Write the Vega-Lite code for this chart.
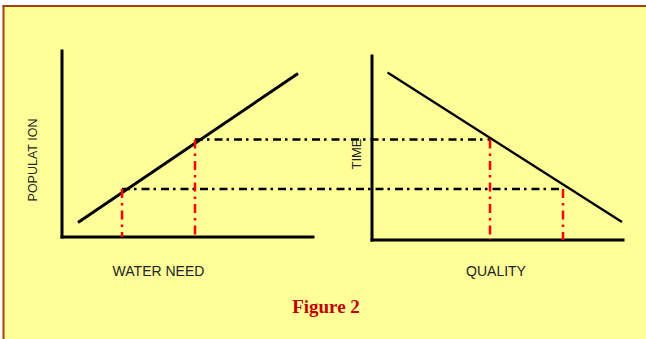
{
  "$schema": "https://vega.github.io/schema/vega-lite/v6.json",
  "width": 646,
  "height": 339,
  "autosize": {"type": "fit", "contains": "padding"},
  "padding": 0,
  "background": "white",
  "config": {"view": {"stroke": null}},
  "datasets": {
    "frame": [{"x": 3, "x2": 680, "y": 333, "y2": -30}],
    "border": [
      {"x": 2.5, "x2": 680, "y": 333, "y2": 333},
      {"x": 3.5, "x2": 3.5, "y": 334, "y2": -30}
    ],
    "segs": [
      {"kind": "axis", "x": 62, "x2": 62, "y": 288, "y2": 102},
      {"kind": "axis", "x": 62, "x2": 313, "y": 102, "y2": 102},
      {"kind": "axis", "x": 372, "x2": 372, "y": 283, "y2": 99},
      {"kind": "axis", "x": 372, "x2": 623, "y": 99, "y2": 99},
      {"kind": "left", "x": 78, "x2": 298, "y": 116.5, "y2": 265.5},
      {"kind": "right", "x": 387.5, "x2": 622, "y": 266.5, "y2": 117},
      {"kind": "guide", "x": 195, "x2": 490, "y": 199.5, "y2": 199.5},
      {"kind": "guide", "x": 122, "x2": 563, "y": 150, "y2": 150},
      {"kind": "drop", "x": 122, "x2": 122, "y": 150, "y2": 102},
      {"kind": "drop", "x": 195, "x2": 195, "y": 199.5, "y2": 102},
      {"kind": "drop", "x": 490, "x2": 490, "y": 199.5, "y2": 99},
      {"kind": "drop", "x": 563, "x2": 563, "y": 150, "y2": 99}
    ],
    "labels": [
      {"kind": "vaxis", "x": 33, "y": 179, "text": "POPULAT ION", "size": 12.5},
      {"kind": "vaxis", "x": 357, "y": 185, "text": "TIME", "size": 13},
      {"kind": "haxis", "x": 158.5, "y": 67, "text": "WATER NEED"},
      {"kind": "haxis", "x": 496, "y": 67, "text": "QUALITY"},
      {"kind": "caption", "x": 326, "y": 32, "text": "Figure 2"}
    ]
  },
  "encoding": {
    "x": {"field": "x", "type": "quantitative", "scale": {"domain": [0, 646], "nice": false, "zero": false}, "axis": null},
    "y": {"field": "y", "type": "quantitative", "scale": {"domain": [0, 339], "nice": false, "zero": false}, "axis": null}
  },
  "layer": [
    {
      "data": {"name": "frame"},
      "mark": {"type": "rect", "fill": "#FFFF99", "clip": true},
      "encoding": {"x2": {"field": "x2"}, "y2": {"field": "y2"}}
    },
    {
      "data": {"name": "border"},
      "mark": {"type": "rule", "color": "#A4420E", "strokeWidth": 2, "clip": true},
      "encoding": {"x2": {"field": "x2"}, "y2": {"field": "y2"}}
    },
    {
      "data": {"name": "segs"},
      "transform": [{"filter": "datum.kind === 'axis'"}],
      "mark": {"type": "rule", "color": "black", "strokeWidth": 3, "strokeCap": "square"},
      "encoding": {"x2": {"field": "x2"}, "y2": {"field": "y2"}}
    },
    {
      "data": {"name": "segs"},
      "transform": [{"filter": "datum.kind === 'left'"}],
      "mark": {"type": "rule", "color": "black", "strokeWidth": 3},
      "encoding": {"x2": {"field": "x2"}, "y2": {"field": "y2"}}
    },
    {
      "data": {"name": "segs"},
      "transform": [{"filter": "datum.kind === 'right'"}],
      "mark": {"type": "rule", "color": "black", "strokeWidth": 2.3},
      "encoding": {"x2": {"field": "x2"}, "y2": {"field": "y2"}}
    },
    {
      "data": {"name": "segs"},
      "transform": [{"filter": "datum.kind === 'guide'"}],
      "mark": {"type": "rule", "color": "black", "strokeWidth": 2.5, "strokeDash": [8, 4, 2.5, 5]},
      "encoding": {"x2": {"field": "x2"}, "y2": {"field": "y2"}}
    },
    {
      "data": {"name": "segs"},
      "transform": [{"filter": "datum.kind === 'drop'"}],
      "mark": {"type": "rule", "color": "#FF0000", "strokeWidth": 2.5, "strokeDash": [9, 5, 2.5, 5]},
      "encoding": {"x2": {"field": "x2"}, "y2": {"field": "y2"}}
    },
    {
      "data": {"name": "labels"},
      "transform": [{"filter": "datum.kind === 'vaxis'"}],
      "mark": {"type": "text", "angle": 270, "font": "Liberation Sans", "color": "#222222", "align": "center", "baseline": "middle"},
      "encoding": {"text": {"field": "text"}, "size": {"field": "size", "type": "quantitative", "scale": null}}
    },
    {
      "data": {"name": "labels"},
      "transform": [{"filter": "datum.kind === 'haxis'"}],
      "mark": {"type": "text", "font": "Liberation Sans", "fontSize": 14, "color": "#222222", "align": "center", "baseline": "middle"},
      "encoding": {"text": {"field": "text"}}
    },
    {
      "data": {"name": "labels"},
      "transform": [{"filter": "datum.kind === 'caption'"}],
      "mark": {"type": "text", "font": "Liberation Serif", "fontSize": 19, "fontWeight": "bold", "color": "#C00000", "align": "center", "baseline": "middle"},
      "encoding": {"text": {"field": "text"}}
    }
  ]
}
